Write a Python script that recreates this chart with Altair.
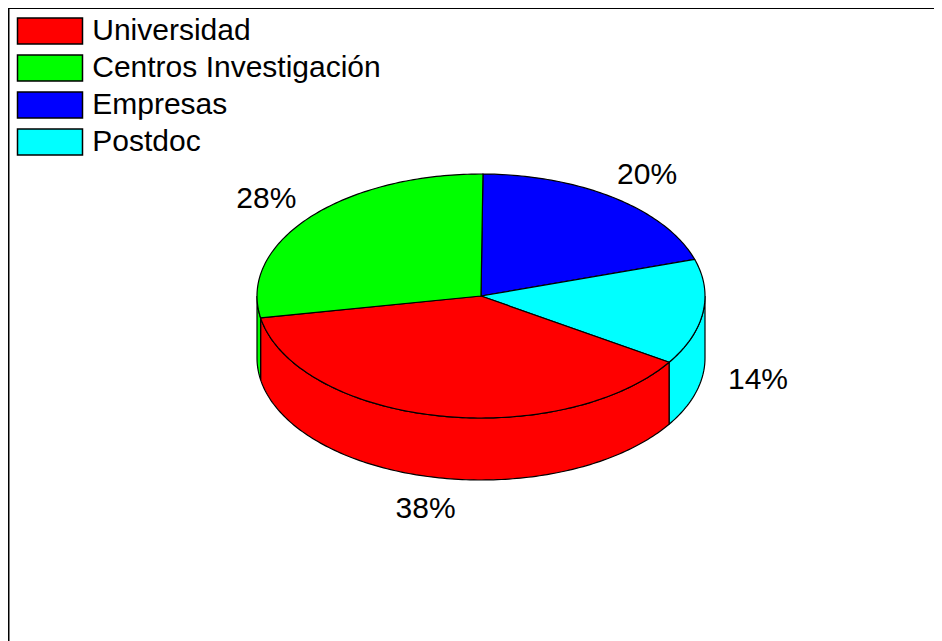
import math
import altair as alt

categories = ["Universidad", "Centros Investigación", "Empresas", "Postdoc"]
values = [38, 28, 20, 14]
colors = ["#ff0000", "#00ff00", "#0000ff", "#00ffff"]
labels = ["38%", "28%", "20%", "14%"]
# clockwise drawing order, starting just right of the top of the pie
clock_order = ["Empresas", "Postdoc", "Universidad", "Centros Investigación"]

START = 0.5      # degrees clockwise from top
TILT = 122 / 224  # ellipse flattening
DEPTH = 62 / 224  # wall height
LABEL_R = 1.25


def pt(deg, drop=0.0, r=1.0):
    a = math.radians(deg)
    return [r * math.sin(a), r * math.cos(a) * TILT - drop]


def arc(a0, a1):
    n = max(2, int(abs(a1 - a0)) + 1)
    return [a0 + (a1 - a0) * i / n for i in range(n + 1)]


def feature(cat, ring):
    ring = ring + [ring[0]]
    return {"type": "Feature", "properties": {"cat": cat},
            "geometry": {"type": "Polygon", "coordinates": [ring]}}


by_cat = dict(zip(categories, values))
spans = {}
a = START
for c in clock_order:
    spans[c] = (a, a + by_cat[c] * 3.6)
    a += by_cat[c] * 3.6

walls, tops, texts = [], [], []
for c in clock_order:
    a0, a1 = spans[c]
    # visible wall: front half of the rim, from 90 to 270 degrees
    w0, w1 = max(a0, 90), min(a1, 270)
    if w1 > w0:
        angs = arc(w0, w1)
        walls.append(feature(c, [pt(t) for t in angs] + [pt(t, DEPTH) for t in reversed(angs)]))
    tops.append(feature(c, [[0, 0]] + [pt(t) for t in arc(a0, a1)]))
    mid = (a0 + a1) / 2
    front = 90 < mid < 270
    x, y = pt(mid, DEPTH if front else 0.0, LABEL_R)
    texts.append({"lon": x, "lat": y, "label": labels[categories.index(c)]})

proj = dict(type="identity", reflectY=True, scale=224, translate=[473, 288])

legend = alt.Legend(
    title=None, orient="none", legendX=27, legendY=8,
    symbolType="M-2.5,-1H2.5V1H-2.5Z", symbolSize=676,
    symbolStrokeColor="black", symbolStrokeWidth=1.5, symbolOpacity=1,
    labelFont="Liberation Sans", labelFontSize=30, labelColor="black",
    labelOffset=27.25, rowPadding=5, labelLimit=500,
)

pie = alt.Chart(alt.InlineData(values=walls + tops, format=alt.JsonDataFormat(type="json"))).mark_geoshape(
    stroke="black", strokeWidth=1.2, fillOpacity=1
).encode(
    color=alt.Color("properties.cat:N", scale=alt.Scale(domain=categories, range=colors), legend=legend)
).project(**proj)

text = alt.Chart(alt.InlineData(values=texts)).mark_text(
    font="Liberation Sans", fontSize=30, color="black", align="center", baseline="middle", dy=1.5, dx=-0.5
).encode(longitude="lon:Q", latitude="lat:Q", text="label:N").project(**proj)

frame_top = alt.Chart(alt.InlineData(values=[{"a": 0}])).mark_rule(color="black", strokeWidth=2).encode(
    x=alt.value(0), x2=alt.value(926), y=alt.value(0))
frame_left = alt.Chart(alt.InlineData(values=[{"a": 0}])).mark_rule(color="black", strokeWidth=3).encode(
    y=alt.value(0), y2=alt.value(633), x=alt.value(0))

chart = alt.layer(pie, text, frame_top, frame_left).properties(
    width=926, height=633, padding=0, autosize=alt.AutoSizeParams(type="none"),
    background="white",
).configure_view(stroke=None)

chart.save("out.html", embed_options={"renderer": "svg", "actions": False})
